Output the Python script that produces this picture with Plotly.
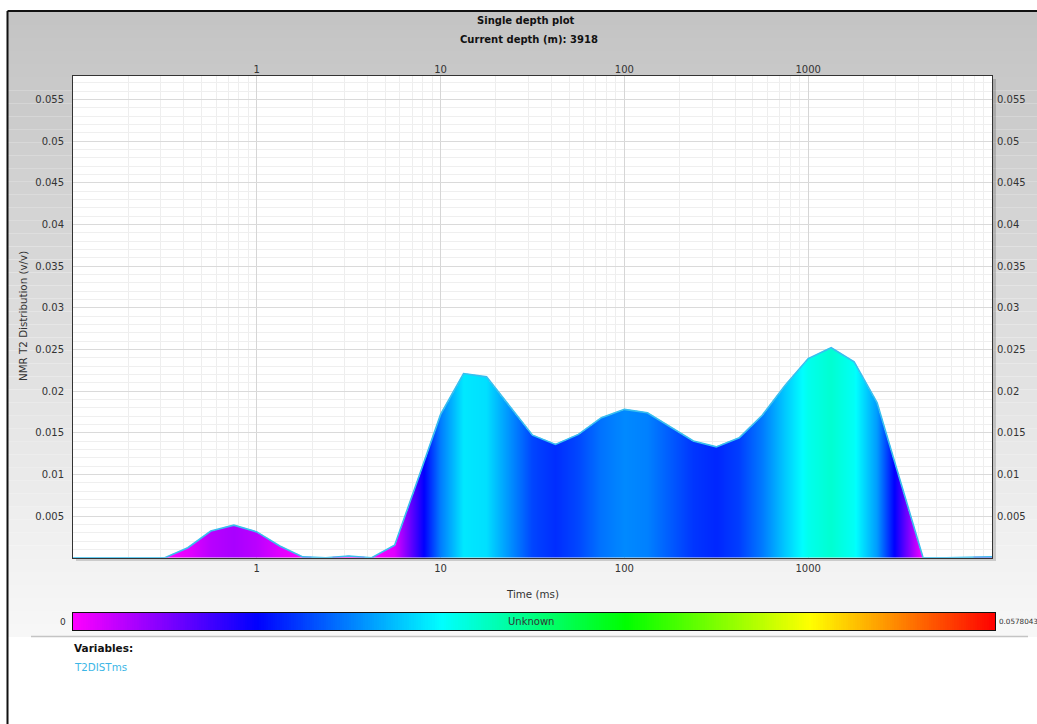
import numpy as np
import plotly.graph_objects as go

W, H = 1037, 724

# ---- data ----
time_ms = [0.1, 0.1334, 0.1778, 0.2371, 0.3162, 0.4217, 0.5623, 0.7499,
           1.0, 1.3335, 1.7783, 2.3714, 3.1623, 4.2170, 5.6234, 7.4989,
           10.0, 13.335, 17.783, 23.714, 31.623, 42.170, 56.234, 74.989,
           100.0, 133.35, 177.83, 237.14, 316.23, 421.70, 562.34, 749.89,
           1000.0, 1333.5, 1778.3, 2371.4, 3162.3, 4217.0, 5623.4, 7498.9, 10000.0]
t2_dist = [0.0, 0.0, 0.0, 0.00005, 0.0, 0.0012, 0.0032, 0.0039,
           0.0031, 0.0014, 0.0001, 0.0, 0.0002, 0.0, 0.0015, 0.0093,
           0.0172, 0.0221, 0.0217, 0.0182, 0.0147, 0.0136, 0.0148, 0.0168,
           0.0178, 0.0174, 0.0157, 0.0140, 0.0133, 0.0144, 0.0171, 0.0207,
           0.0239, 0.0252, 0.0235, 0.0186, 0.0093, 0.0, 0.0, 0.00005, 0.0001]
y_ticks = [0.005, 0.01, 0.015, 0.02, 0.025, 0.03, 0.035, 0.04, 0.045, 0.05, 0.055]
x_ticks = [1, 10, 100, 1000]
color_min = 0.0
color_max = 0.0578043
title_lines = ["Single depth plot", "Current depth (m): 3918"]
variable_names = ["T2DISTms"]

colorscale = [[0.0, "rgb(255,0,255)"], [0.2, "rgb(0,0,255)"], [0.4, "rgb(0,255,255)"],
              [0.6, "rgb(0,255,0)"], [0.8, "rgb(255,255,0)"], [1.0, "rgb(255,0,0)"]]

FONT = "DejaVu Sans"

def px_x(x):
    return x / W

def px_y(y):
    return 1 - y / H

# plot area in pixels
PL, PR, PT, PB = 73, 992, 76, 557.7

fig = go.Figure()

# ---- gradient fill under the curve: each column coloured by the curve value ----
lx = np.log10(np.array(time_ms))
cols = np.linspace(-1, 4, 920)
curve = np.interp(cols, lx, np.array(t2_dist))
dy = color_max / (PB - PT)
rows = np.arange(0.5 * dy, max(t2_dist) + 2 * dy, dy)
zmask = rows[:, None] <= curve[None, :]
z = [[round(float(curve[j]), 6) if zmask[i, j] else None for j in range(len(cols))]
     for i in range(len(rows))]
fig.add_trace(go.Heatmap(
    x=(10 ** cols).tolist(), y=rows.tolist(), z=z,
    colorscale=colorscale, zmin=color_min, zmax=color_max,
    showscale=False, hoverinfo="skip", xaxis="x", yaxis="y"))

# outline
fig.add_trace(go.Scatter(
    x=time_ms, y=t2_dist, mode="lines",
    line=dict(color="#38bfef", width=1.6),
    hoverinfo="skip", showlegend=False, xaxis="x", yaxis="y"))

# dummy trace for the mirrored top/right axes
fig.add_trace(go.Scatter(x=[1], y=[0.01], mode="markers", marker=dict(opacity=0),
                         hoverinfo="skip", showlegend=False, xaxis="x2", yaxis="y2"))

# colour bar as a heatmap strip
nbar = 400
bar_vals = np.linspace(color_min, color_max, nbar)
fig.add_trace(go.Heatmap(
    x=bar_vals.tolist(), y=[0], z=[bar_vals.tolist()],
    colorscale=colorscale, zmin=color_min, zmax=color_max,
    showscale=False, hoverinfo="skip", xaxis="x3", yaxis="y3"))

tickfont = dict(family=FONT, size=10, color="#333333")
xdom = [px_x(PL), px_x(PR)]
ydom = [px_y(PB), px_y(PT)]

fig.update_layout(
    width=W, height=H,
    margin=dict(l=0, r=0, t=0, b=0),
    paper_bgcolor="white", plot_bgcolor="white",
    showlegend=False,
    xaxis=dict(type="log", range=[-1, 4], domain=xdom, anchor="y",
               tickvals=x_ticks, ticktext=[str(v) for v in x_ticks],
               ticks="outside", ticklen=1, tickcolor="rgba(0,0,0,0)",
               tickfont=tickfont,
               showgrid=True, gridcolor="#d6d6d6", gridwidth=1,
               minor=dict(dtick="D1", showgrid=True, gridcolor="#eeeeee", gridwidth=1, ticks=""),
               showline=True, linecolor="#333333", linewidth=1, mirror=True,
               zeroline=False),
    xaxis2=dict(type="log", range=[-1, 4], overlaying="x", side="top", anchor="y",
                tickvals=x_ticks, ticktext=[str(v) for v in x_ticks],
                ticks="",
                tickfont=tickfont, showgrid=False, zeroline=False, showline=False),
    yaxis=dict(range=[0, color_max], domain=ydom, anchor="x",
               tickvals=y_ticks, ticktext=[str(v) for v in y_ticks],
               ticks="outside", ticklen=6, tickcolor="rgba(0,0,0,0)",
               tickfont=tickfont,
               showgrid=True, gridcolor="#dadada", gridwidth=1,
               minor=dict(dtick=0.001, showgrid=True, gridcolor="#efefef", gridwidth=1, ticks=""),
               showline=True, linecolor="#333333", linewidth=1, mirror=True,
               zeroline=False),
    yaxis2=dict(range=[0, color_max], overlaying="y", side="right", anchor="x",
                tickvals=y_ticks, ticktext=[str(v) for v in y_ticks],
                ticks="outside", ticklen=2, tickcolor="rgba(0,0,0,0)",
                tickfont=tickfont, showgrid=False, zeroline=False, showline=False),
    xaxis3=dict(range=[color_min, color_max], domain=[px_x(73), px_x(995)], anchor="y3",
                showticklabels=False, ticks="", showgrid=False, zeroline=False,
                showline=True, linecolor="#111111", linewidth=1, mirror=True),
    yaxis3=dict(range=[-0.5, 0.5], domain=[px_y(630), px_y(613)], anchor="x3",
                showticklabels=False, ticks="", showgrid=False, zeroline=False,
                showline=True, linecolor="#111111", linewidth=1, mirror=True),
)

shapes = []
# background gradient (light gray) inside the outer frame
n = 48
top, bot = 12, 637
for i in range(n):
    y0 = top + i * (bot - top) / n
    y1 = top + (i + 1) * (bot - top) / n
    g = int(round(195 + (248 - 195) * (i + 0.5) / n))
    shapes.append(dict(type="rect", xref="paper", yref="paper", layer="below",
                       x0=px_x(8), x1=1, y0=px_y(y1), y1=px_y(y0),
                       line=dict(width=0), fillcolor=f"rgb({g},{g},{g})"))
# plot shadow
shapes.append(dict(type="rect", xref="paper", yref="paper", layer="below",
                   x0=px_x(76), x1=px_x(996), y0=px_y(561), y1=px_y(79),
                   line=dict(width=0), fillcolor="rgba(0,0,0,0.16)"))
# plot background
shapes.append(dict(type="rect", xref="paper", yref="paper", layer="below",
                   x0=xdom[0], x1=xdom[1], y0=ydom[0], y1=ydom[1],
                   line=dict(width=0), fillcolor="white"))
# separator line
shapes.append(dict(type="line", xref="paper", yref="paper",
                   x0=px_x(31), x1=px_x(1028), y0=px_y(636.5), y1=px_y(636.5),
                   line=dict(color="#c4c4c4", width=1.6)))
# outer frame (top and left)
shapes.append(dict(type="line", xref="paper", yref="paper",
                   x0=px_x(7.5), x1=1, y0=px_y(11), y1=px_y(11),
                   line=dict(color="#111111", width=2)))
shapes.append(dict(type="line", xref="paper", yref="paper",
                   x0=px_x(7.5), x1=px_x(7.5), y0=0, y1=px_y(11),
                   line=dict(color="#111111", width=2)))

annotations = [
    dict(text="<b>%s</b>" % title_lines[0], x=px_x(526), y=px_y(20), xref="paper", yref="paper",
         showarrow=False, xanchor="center", yanchor="middle",
         font=dict(family=FONT, size=10, color="#111111")),
    dict(text="<b>%s</b>" % title_lines[1], x=px_x(529), y=px_y(39), xref="paper", yref="paper",
         showarrow=False, xanchor="center", yanchor="middle",
         font=dict(family=FONT, size=10, color="#111111")),
    dict(text="NMR T2 Distribution (v/v)", x=px_x(23), y=px_y(316), xref="paper", yref="paper",
         showarrow=False, xanchor="center", yanchor="middle", textangle=-90,
         font=dict(family=FONT, size=10.3, color="#333333")),
    dict(text="Time (ms)", x=px_x(532), y=px_y(594), xref="paper", yref="paper",
         showarrow=False, xanchor="center", yanchor="middle",
         font=dict(family=FONT, size=10.3, color="#333333")),
    dict(text=str(int(color_min)), x=px_x(68), y=px_y(621.5), xref="paper", yref="paper",
         showarrow=False, xanchor="right", yanchor="middle",
         font=dict(family=FONT, size=9, color="#333333")),
    dict(text=str(color_max), x=px_x(997), y=px_y(621.5), xref="paper", yref="paper",
         showarrow=False, xanchor="left", yanchor="middle",
         font=dict(family=FONT, size=7.2, color="#333333")),
    dict(text="Unknown", x=px_x(531), y=px_y(621.5), xref="paper", yref="paper",
         showarrow=False, xanchor="center", yanchor="middle",
         font=dict(family=FONT, size=10, color="#333333")),
    dict(text="<b>Variables:</b>", x=px_x(72), y=px_y(648), xref="paper", yref="paper",
         showarrow=False, xanchor="left", yanchor="middle",
         font=dict(family=FONT, size=10.5, color="#111111")),
]
for i, name in enumerate(variable_names):
    annotations.append(dict(text=name, x=px_x(72), y=px_y(667 + 18 * i), xref="paper", yref="paper",
                            showarrow=False, xanchor="left", yanchor="middle",
                            font=dict(family=FONT, size=10.3, color="#3cb6e6")))

fig.update_layout(shapes=shapes, annotations=annotations)

fig.write_html("out.html")
